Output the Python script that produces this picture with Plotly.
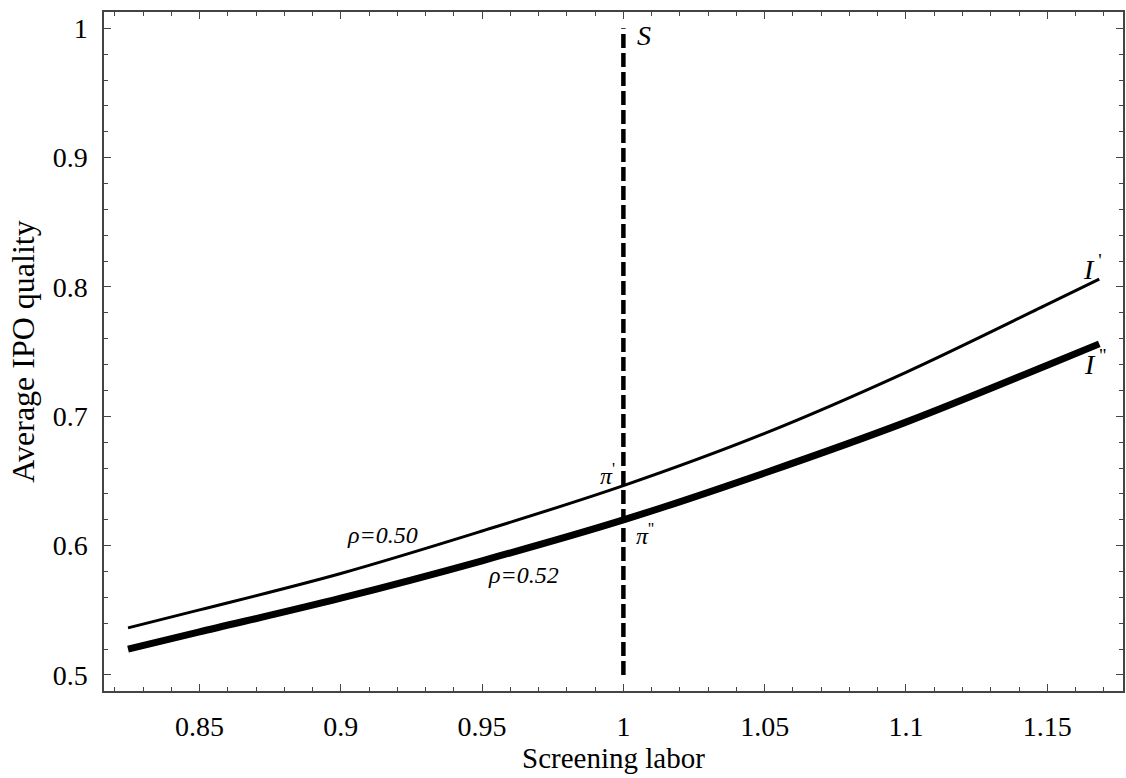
import plotly.graph_objects as go

# Data
x_vals = [0.8247, 0.85, 0.90, 0.95, 1.00, 1.05, 1.10, 1.15, 1.1684]
rho050 = [0.5364, 0.5503, 0.5785, 0.6113, 0.6464, 0.6868, 0.7340, 0.7865, 0.8060]
rho052 = [0.5200, 0.5333, 0.5594, 0.5883, 0.6199, 0.6562, 0.6955, 0.7395, 0.7560]
screen_x = [1.0, 1.0]
screen_y = [0.5, 1.0]

x_tickvals = [0.85, 0.9, 0.95, 1.0, 1.05, 1.1, 1.15]
x_ticktext = ["0.85", "0.9", "0.95", "1", "1.05", "1.1", "1.15"]
y_tickvals = [0.5, 0.6, 0.7, 0.8, 0.9, 1.0]
y_ticktext = ["0.5", "0.6", "0.7", "0.8", "0.9", "1"]

FONT = "Liberation Serif, Times New Roman, serif"

fig = go.Figure()
fig.add_trace(go.Scatter(x=x_vals, y=rho050, mode="lines",
                         line=dict(color="black", width=3, shape="spline"),
                         showlegend=False, hoverinfo="skip"))
fig.add_trace(go.Scatter(x=x_vals, y=rho052, mode="lines",
                         line=dict(color="black", width=7, shape="spline"),
                         showlegend=False, hoverinfo="skip"))
fig.add_trace(go.Scatter(x=screen_x, y=screen_y, mode="lines",
                         line=dict(color="black", width=4.5, dash="14px,5px"),
                         showlegend=False, hoverinfo="skip"))

annots = [
    dict(text="<i>ρ=0.50</i>", x=0.9146, y=0.6083, size=24),
    dict(text="<i>ρ=0.52</i>", x=0.9645, y=0.5773, size=24),
    dict(text="<i>π</i><sup>'</sup>", x=0.9942, y=0.6555, size=24),
    dict(text="<i>π</i><sup>''</sup>", x=1.0075, y=0.6090, size=24),
    dict(text="<i>S</i>", x=1.0072, y=0.9942, size=28),
    dict(text="<i>I</i><sup> '</sup>", x=1.1659, y=0.8148, size=28),
    dict(text="<i>I</i><sup> ''</sup>", x=1.1668, y=0.7413, size=28),
]
for a in annots:
    fig.add_annotation(x=a["x"], y=a["y"], xref="x", yref="y", text=a["text"],
                       showarrow=False, font=dict(family=FONT, size=a["size"], color="black"),
                       xanchor="center", yanchor="middle")

axis_common = dict(
    showline=True, linecolor="#444", linewidth=1.5, mirror="ticks",
    ticks="inside", ticklen=7, tickwidth=1.3, tickcolor="#444",
    showgrid=False, zeroline=False,
    tickfont=dict(family=FONT, size=28, color="black"),
)

fig.update_xaxes(range=[0.8162, 1.1768], tickmode="array", tickvals=x_tickvals,
                 ticktext=x_ticktext,
                 minor=dict(ticks="inside", ticklen=4, tickwidth=1.1, tickcolor="#444",
                            dtick=0.01, tick0=0, showgrid=False),
                 title=dict(text="Screening labor", font=dict(family=FONT, size=29, color="black"),
                            standoff=1),
                 ticklabelstandoff=10,
                 **axis_common)
fig.update_yaxes(range=[0.4876, 1.0126], tickmode="array", tickvals=y_tickvals,
                 ticktext=y_ticktext,
                 minor=dict(ticks="inside", ticklen=4, tickwidth=1.1, tickcolor="#444",
                            dtick=0.02, tick0=0, showgrid=False),
                 title=dict(text="Average IPO quality", font=dict(family=FONT, size=32, color="black"),
                            standoff=8),
                 ticklabelstandoff=9,
                 **axis_common)

fig.update_layout(width=1126, height=778, margin=dict(l=104, r=3, t=12, b=87, autoexpand=False),
                  plot_bgcolor="white", paper_bgcolor="white",
                  font=dict(family=FONT, color="black"))

fig.write_html("out.html", config={"displayModeBar": False},
               post_script="document.body.style.margin='0';document.body.style.overflow='hidden';")
